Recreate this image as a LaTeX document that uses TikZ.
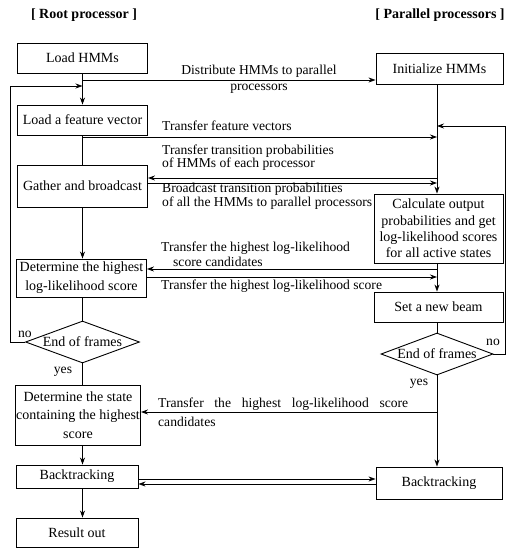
\documentclass[tikz,border=0pt]{standalone}
\usepackage{fontspec}
\setmainfont{Liberation Serif}
\usetikzlibrary{shapes.geometric,arrows.meta,calc}

\begin{document}
\begin{tikzpicture}[x=1pt,y=-1pt,
  box/.style={draw, line width=0.9pt, inner sep=0pt, align=center,
    font=\fontsize{14}{16}\selectfont},
  dec/.style={draw, diamond, aspect=2.8, inner sep=0pt, line width=0.9pt,
    minimum width=114pt, minimum height=42pt, font=\fontsize{14}{16}\selectfont},
  lbl/.style={inner sep=0pt, align=left, font=\fontsize{13.6}{11}\selectfont},
  hdr/.style={inner sep=0pt, font=\bfseries\fontsize{14}{16}\selectfont},
  small/.style={inner sep=0pt, font=\fontsize{13.6}{16}\selectfont},
  conn/.style={line width=0.8pt},
  arr/.style={conn, -{Stealth[length=7pt,width=5pt]}},
]
\useasboundingbox (0,0) rectangle (509,549);

% column headings
\node[hdr] (hl) at (84,15) {[ Root processor ]};
\node[hdr] (hr) at (440,15) {[ Parallel processors ]};

% root processor column
\node[box, minimum width=130pt, minimum height=30pt] (lh)  at (82.5,58)  {Load HMMs};
\node[box, minimum width=130pt, minimum height=30pt] (lfv) at (82.5,120) {Load a feature vector};
\node[box, minimum width=130pt, minimum height=42pt] (gab) at (82.5,186) {Gather and broadcast};
\node[box, minimum width=130pt, minimum height=38pt, font=\fontsize{14}{19}\selectfont]
  (dh) at (81.5,278) {Determine the highest\\log-likelihood score};
\node[dec] (lend) at (82.5,342) {End of frames};
\node[box, minimum width=125pt, minimum height=60pt, font=\fontsize{14}{18.5}\selectfont]
  (ds) at (78,415) {Determine the state\\containing the highest\\score};
\node[box, minimum width=122pt, minimum height=23pt] (btl) at (77,476.5) {Backtracking};
\node[box, minimum width=122pt, minimum height=29pt] (ro)  at (77,532.5) {Result out};

% parallel processors column
\node[box, minimum width=127pt, minimum height=31pt] (init) at (439.5,68.5) {Initialize HMMs};
\node[box, minimum width=129pt, minimum height=69pt, font=\fontsize{14}{16.3}\selectfont]
  (calc) at (438.5,228.5)
  {Calculate output\\probabilities and get\\log-likelihood scores\\for all active states};
\node[box, minimum width=129pt, minimum height=30pt] (snb) at (438.5,307) {Set a new beam};
\node[dec, minimum width=112pt] (rend) at (437,354) {End of frames};
\node[box, minimum width=126pt, minimum height=32pt] (btr) at (439,483) {Backtracking};

% reference lines of the two columns
\coordinate (sp) at (82.5,0);
\coordinate (tr) at (437,0);
\coordinate (lx) at (10,0);
\coordinate (rx) at (505,0);

% root column flow
\draw[arr] (lh) -- (lfv);
\draw[conn] (lfv) -- (gab);
\draw[arr] (gab.south -| sp) -- (dh.north -| sp);
\draw[conn] (dh.south -| lend) -- (lend.north);
\draw[conn] (lend.south) -- (ds.north -| lend);
\draw[arr] (ds.south -| sp) -- (btl.north -| sp);
\draw[arr] (btl.south -| sp) -- (ro.north -| sp);
\coordinate (lj) at (82.5,86);
\draw[arr] (lend.west) -- (lend.west -| lx) -- (lx |- lj) -- (lj);
\node[small, anchor=south] (lno) at (25,338) {no};
\node[small] (lyes) at (63,372) {yes};

% parallel column flow
\draw[arr] (init.south -| tr) -- (calc.north -| tr);
\draw[arr] (calc.south -| tr) -- (snb.north -| tr);
\draw[conn] (snb.south -| rend) -- (rend.north);
\draw[arr] (rend.south) -- (btr.north -| rend);
\coordinate (rj) at (437,126);
\draw[arr] (rend.east) -- (rend.east -| rx) -- (rx |- rj) -- (rj);
\node[small] (rno) at (493,342) {no};
\node[small] (ryes) at (419,384) {yes};

% messages between the processors
\coordinate (dj) at (82.5,80);
\draw[arr] (dj) -- (dj -| init.west);
\node[small, align=center] (ldist) at (259,79) {Distribute HMMs to parallel\\processors};

\coordinate (fj) at (82.5,137);
\draw[arr] (fj) -- (fj -| tr);
\node[lbl, anchor=west] (ltfv) at (162,126) {Transfer feature vectors};

\coordinate (g1) at (437,178);
\draw[arr] (g1) -- (g1 -| gab.east);
\node[lbl, anchor=west] (lttp) at (162,157.5)
  {Transfer transition probabilities\\of HMMs of each processor};
\coordinate (g2) at (437,183);
\draw[arr] (g2 -| gab.east) -- (g2);
\node[lbl, anchor=west, font=\fontsize{13.6}{10.5}\selectfont] (lbtp) at (162,196)
  {Broadcast transition probabilities\\of all the HMMs to parallel processors};

\coordinate (h1) at (437,269);
\draw[arr] (h1) -- (h1 -| dh.east);
\node[lbl, anchor=west, font=\fontsize{13.6}{15}\selectfont] (lthc) at (161,254.5)
  {Transfer the highest log-likelihood\\\hspace*{12pt}score candidates};
\coordinate (h2) at (437,277);
\draw[arr] (h2 -| dh.east) -- (h2);
\node[lbl, anchor=west] (lths) at (161,286) {Transfer the highest log-likelihood score};

\coordinate (sj) at (437,412);
\draw[arr] (sj) -- (sj -| ds.east);
\node[lbl, anchor=west, font=\fontsize{13.6}{19}\selectfont] (lthsc) at (158,412.5)
  {\makebox[250pt][s]{Transfer the highest log-likelihood score}\\candidates};

\coordinate (b1) at (0,479);
\coordinate (b2) at (0,484);
\draw[arr] (btl.east |- b1) -- (btr.west |- b1);
\draw[arr] (btr.west |- b2) -- (btl.east |- b2);
\end{tikzpicture}
\end{document}
